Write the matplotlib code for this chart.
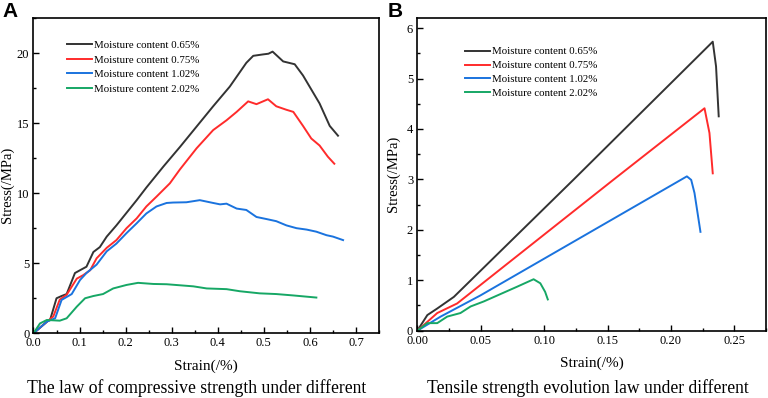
import matplotlib
matplotlib.use("Agg")
import matplotlib.pyplot as plt
from matplotlib.ticker import MultipleLocator

plt.rcParams['font.family'] = ['Liberation Serif', 'DejaVu Serif']

labels = ["Moisture content 0.65%", "Moisture content 0.75%",
          "Moisture content 1.02%", "Moisture content 2.02%"]
colors = ["#333333", "#ff2b2b", "#1a73de", "#16a765"]

# Panel A: compressive
a_x_065 = [0.0, 0.03, 0.036, 0.05, 0.061, 0.072, 0.09, 0.101, 0.115, 0.13, 0.144, 0.159, 0.18, 0.202,
           0.224, 0.245, 0.282, 0.318, 0.354, 0.39, 0.426, 0.462, 0.477, 0.498, 0.51, 0.519,
           0.542, 0.567, 0.585, 0.603, 0.621, 0.643, 0.661]
a_y_065 = [0.0, 0.85, 0.95, 2.5, 2.66, 2.8, 4.3, 4.5, 4.75, 5.8, 6.15, 6.9, 7.7, 8.6,
           9.5, 10.4, 11.9, 13.3, 14.75, 16.2, 17.6, 19.3, 19.8, 19.9, 19.95, 20.1,
           19.4, 19.2, 18.4, 17.4, 16.4, 14.8, 14.1]
a_x_075 = [0.0, 0.03, 0.043, 0.057, 0.072, 0.094, 0.108, 0.123, 0.137, 0.159, 0.18, 0.202, 0.224,
           0.245, 0.267, 0.296, 0.318, 0.354, 0.39, 0.419, 0.441, 0.466, 0.484, 0.509, 0.527,
           0.549, 0.564, 0.585, 0.603, 0.621, 0.639, 0.653]
a_y_075 = [0.0, 0.85, 1.2, 2.4, 2.75, 3.9, 4.15, 4.5, 5.35, 6.1, 6.65, 7.5, 8.2,
           9.05, 9.75, 10.7, 11.7, 13.2, 14.5, 15.2, 15.8, 16.55, 16.35, 16.7, 16.2,
           15.95, 15.8, 14.8, 13.9, 13.4, 12.6, 12.1]
a_x_102 = [0.0, 0.03, 0.047, 0.061, 0.083, 0.101, 0.115, 0.137, 0.159, 0.18, 0.202, 0.224, 0.245,
           0.267, 0.289, 0.303, 0.332, 0.361, 0.39, 0.405, 0.419, 0.441, 0.462, 0.484, 0.506,
           0.527, 0.549, 0.571, 0.593, 0.614, 0.636, 0.65, 0.672]
a_y_102 = [0.0, 0.85, 1.07, 2.38, 2.8, 3.8, 4.3, 4.9, 5.85, 6.4, 7.15, 7.85, 8.55,
           9.05, 9.3, 9.33, 9.35, 9.5, 9.3, 9.2, 9.25, 8.9, 8.8, 8.3, 8.15,
           8.0, 7.7, 7.5, 7.4, 7.25, 7.0, 6.9, 6.65]
a_x_202 = [0.0, 0.014, 0.029, 0.057, 0.072, 0.094, 0.112, 0.13, 0.151, 0.173, 0.202, 0.227, 0.26,
           0.289, 0.347, 0.376, 0.419, 0.448, 0.491, 0.527, 0.564, 0.614]
a_y_202 = [0.0, 0.7, 0.95, 0.9, 1.07, 1.9, 2.5, 2.66, 2.8, 3.2, 3.45, 3.6, 3.52,
           3.5, 3.35, 3.2, 3.15, 3.0, 2.85, 2.8, 2.7, 2.55]

# Panel B: tensile
b_x_065 = [0.0, 0.0079, 0.0157, 0.0288, 0.123, 0.233, 0.2356, 0.2377]
b_y_065 = [0.0, 0.31, 0.44, 0.67, 2.99, 5.73, 5.24, 4.25]
b_x_075 = [0.0, 0.0157, 0.0314, 0.1545, 0.2265, 0.2304, 0.233]
b_y_075 = [0.0, 0.35, 0.54, 2.99, 4.41, 3.92, 3.12]
b_x_102 = [0.0, 0.0184, 0.0498, 0.2126, 0.216, 0.2186, 0.2233]
b_y_102 = [0.0, 0.28, 0.7, 3.06, 2.99, 2.73, 1.96]
b_x_202 = [0.0, 0.0079, 0.0157, 0.0236, 0.034, 0.042, 0.0524, 0.0785, 0.0917, 0.097, 0.1008, 0.1029]
b_y_202 = [0.0, 0.15, 0.15, 0.28, 0.35, 0.48, 0.58, 0.87, 1.02, 0.94, 0.77, 0.62]

fig = plt.figure(figsize=(7.68, 3.98), dpi=100)
axA = fig.add_axes([0.0436, 0.1626, 0.4499, 0.7922])
axB = fig.add_axes([0.5434, 0.1691, 0.4540, 0.7857])

lw = 1.4
for x, y, c, l in zip([a_x_065, a_x_075, a_x_102, a_x_202],
                      [a_y_065, a_y_075, a_y_102, a_y_202], colors, labels):
    axA.plot(x, y, color=c, lw=lw, label=l)
for x, y, c, l in zip([b_x_065, b_x_075, b_x_102, b_x_202],
                      [b_y_065, b_y_075, b_y_102, b_y_202], colors, labels):
    axB.plot(x, y, color=c, lw=lw, label=l)

axA.set_xlim(0, 0.75)
axA.set_ylim(0, 22.5)
axA.xaxis.set_minor_locator(MultipleLocator(0.05))
axA.yaxis.set_major_locator(MultipleLocator(5))
axA.yaxis.set_minor_locator(MultipleLocator(2.5))
axA.set_xticks([0, 0.1, 0.2, 0.3, 0.4, 0.5, 0.6, 0.7])
axA.set_xticklabels(["0.0", "0.1", "0.2", "0.3", "0.4", "0.5", "0.6", "0.7"])

axB.set_xlim(0, 0.275)
axB.set_ylim(0, 6.2)
axB.xaxis.set_minor_locator(MultipleLocator(0.025))
axB.yaxis.set_major_locator(MultipleLocator(1))
axB.yaxis.set_minor_locator(MultipleLocator(0.5))
axB.set_xticks([0, 0.05, 0.1, 0.15, 0.2, 0.25])
axB.set_xticklabels(["0.00", "0.05", "0.10", "0.15", "0.20", "0.25"])

for ax in (axA, axB):
    for s in ax.spines.values():
        s.set_linewidth(1.2)
    ax.tick_params(which='major', direction='in', length=4, width=1, labelsize=9, pad=3)
    ax.tick_params(which='minor', direction='in', length=2.5, width=1)
    ax.set_xlabel("Strain(/%)", fontsize=11, labelpad=7)
    ax.set_ylabel("Stress(/MPa)", fontsize=10.5, labelpad=2)

axA.yaxis.set_label_coords(-0.056, 0.47)
axB.yaxis.set_label_coords(-0.05, 0.5)

axA.legend(loc='upper left', bbox_to_anchor=(0.075, 0.952), frameon=False, fontsize=7.8,
           handlelength=2.3, handletextpad=0.2, labelspacing=0.45, borderpad=0.2)
axB.legend(loc='upper left', bbox_to_anchor=(0.115, 0.932), frameon=False, fontsize=7.8,
           handlelength=2.3, handletextpad=0.2, labelspacing=0.4, borderpad=0.2)

fig.text(0.256, 0.012, "The law of compressive strength under different", ha='center',
         fontsize=12.7)
fig.text(0.765, 0.012, "Tensile strength evolution law under different", ha='center',
         fontsize=12.7)
fig.text(0.003, 0.958, "A", fontsize=15, fontweight='bold', family='Liberation Sans')
fig.text(0.505, 0.958, "B", fontsize=15, fontweight='bold', family='Liberation Sans')

fig.savefig("out.png", dpi=100)
